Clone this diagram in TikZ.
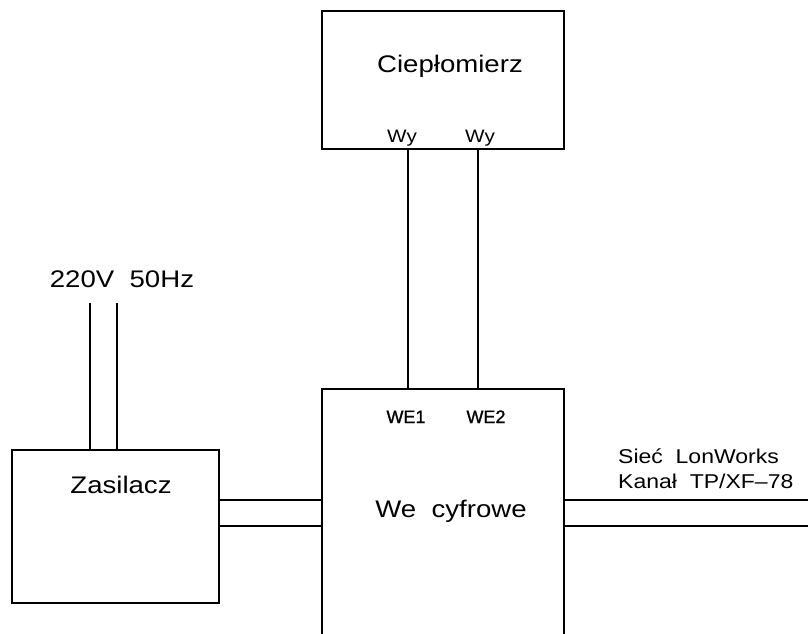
\documentclass[tikz,border=0pt]{standalone}
\usepackage{fontspec}
\setmainfont{Liberation Sans}[FakeStretch=1.15]
\newfontfamily\narrowfont{Liberation Sans}[FakeBold=1.2]
\begin{document}
\begin{tikzpicture}[x=1pt,y=-1pt,
  box/.style={draw,line width=2.6pt,inner sep=0pt,outer sep=0pt,rectangle},
  wire/.style={line width=1.4pt},
  big/.style={font=\fontsize{24}{28}\selectfont,inner sep=0pt,anchor=base},
  small/.style={font=\fontsize{18}{20}\selectfont,inner sep=0pt,anchor=base},
  port/.style={font=\narrowfont\fontsize{18}{20}\selectfont,inner sep=0pt,anchor=base},
  net/.style={font=\fontsize{20}{24}\selectfont,inner sep=0pt,anchor=base west}]
\useasboundingbox (0,0) rectangle (808,634);
\clip (0,0) rectangle (808,634);
% boxes
\node[box,minimum width=242pt,minimum height=138pt] (cm) at (443,80) {};
\node[box,minimum width=242pt,minimum height=261pt] (wc) at (443,519.5) {};
\node[box,minimum width=207pt,minimum height=153pt] (zs) at (115.5,526.5) {};
% texts
\node[big] (cmt) at (450,72) {Ciepłomierz};
\node[small] (wy1) at (402,142) {Wy};
\node[small] (wy2) at (480,142) {Wy};
\node[port] (we1) at (406,423) {WE1};
\node[port] (we2) at (486,423) {WE2};
\node[big] (wct) at (451,517) {We\ \ cyfrowe};
\node[big] (zst) at (121,493) {Zasilacz};
\node[big] (pwr) at (122,287) {220V\ \ 50Hz};
\node[net] (n1) at (618,463) {Sieć\ \ LonWorks};
\node[net] (n2) at (618,488) {Kanał\ \ TP/XF–78};
% helper coordinates
\coordinate (v1) at (408,0);
\coordinate (v2) at (478,0);
\coordinate (a1) at (90,303);
\coordinate (a2) at (117,303);
\coordinate (h1) at (0,500);
\coordinate (h2) at (0,526);
\coordinate (e1) at (808,500);
\coordinate (e2) at (808,526);
% wires
\draw[wire] (cm.south -| v1) -- (wc.north -| v1);
\draw[wire] (cm.south -| v2) -- (wc.north -| v2);
\draw[wire] (a1) -- (zs.north -| a1);
\draw[wire] (a2) -- (zs.north -| a2);
\draw[wire] (zs.east |- h1) -- (wc.west |- h1);
\draw[wire] (zs.east |- h2) -- (wc.west |- h2);
\draw[wire] (wc.east |- h1) -- (e1);
\draw[wire] (wc.east |- h2) -- (e2);
\end{tikzpicture}
\end{document}
